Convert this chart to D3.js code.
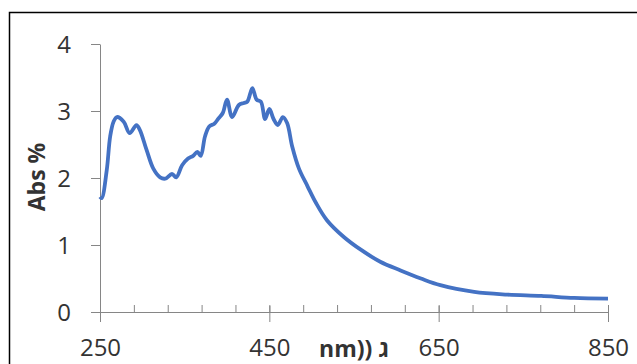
<!DOCTYPE html>
<html lang="en">
<head>
  <meta charset="UTF-8">
  <title>Abs spectrum</title>
  <script src="https://d3js.org/d3.v7.min.js"></script>
  <style>
    body { margin: 0; background: #fff; }
    text { font-family: "Open Sans", "Liberation Sans", sans-serif; fill: #333; }
  </style>
</head>
<body>
<script type="text/javascript">
    // wavelength (nm) and absorbance
    var wavelength = [250, 252, 258, 262, 266, 270, 278, 285, 293, 297, 305, 313, 321, 327, 335, 340,
                      347, 354, 360, 365, 369, 374, 379, 385, 390, 395, 400, 406, 414, 420, 424, 430,
                      435, 440, 445, 450, 455, 460, 466, 471, 477, 485, 495, 505, 518, 538, 558,
                      581, 605, 629, 652, 692, 731, 771, 810, 850];
    var absorb = [1.72, 1.70, 2.12, 2.62, 2.84, 2.91, 2.84, 2.67, 2.79, 2.72, 2.42, 2.14, 2.01, 1.99, 2.06, 2.01,
                  2.19, 2.29, 2.33, 2.39, 2.33, 2.62, 2.77, 2.81, 2.89, 2.97, 3.17, 2.91, 3.09, 3.12, 3.14, 3.34,
                  3.17, 3.14, 2.88, 3.03, 2.88, 2.79, 2.91, 2.82, 2.47, 2.14, 1.88, 1.63, 1.37, 1.12, 0.93,
                  0.75, 0.62, 0.50, 0.40, 0.30, 0.26, 0.24, 0.21, 0.20];
    var yTicks = [0, 1, 2, 3, 4];
    var xLabels = [250, 450, 650, 850];
    var xMinor = d3.range(250, 851, 40);

    var W = 637, H = 364;
    var svg = d3.select("body").append("svg")
                .attr("width", W)
                .attr("height", H);

    // outer frame
    svg.append("rect")
       .attr("x", 9.5).attr("y", 12.5)
       .attr("width", 700).attr("height", 400)
       .attr("fill", "#fff")
       .attr("stroke", "#000")
       .attr("stroke-width", 1.5);

    var x = d3.scaleLinear().domain([250, 850]).range([100, 608]);
    var y = d3.scaleLinear().domain([0, 4]).range([312, 44]);

    // y axis
    var yAxis = svg.append("g")
       .attr("transform", "translate(100,0)")
       .call(d3.axisLeft(y).tickValues(yTicks).tickSize(9).tickSizeOuter(0)
                .tickPadding(20).tickFormat(d3.format("d")));
    yAxis.selectAll("text").style("font-size", "24px").attr("dy", "0.36em");

    // x axis minor ticks (inside)
    svg.append("g")
       .attr("transform", "translate(0,312)")
       .call(d3.axisTop(x).tickValues(xMinor).tickSize(7).tickSizeOuter(0).tickFormat(""));

    // x axis major ticks (crossing) with labels
    var xAxis = svg.append("g")
       .attr("transform", "translate(0,312)")
       .call(d3.axisBottom(x).tickValues(xLabels).tickSize(10).tickSizeOuter(0).tickPadding(17));
    xAxis.selectAll(".tick line").attr("y1", -6);
    xAxis.selectAll("text").style("font-size", "24px").attr("dy", "0.71em");

    svg.selectAll(".domain, .tick line").attr("stroke", "#868686");

    // axis titles
    svg.append("text")
       .attr("transform", "translate(45,177) rotate(-90)")
       .attr("text-anchor", "middle")
       .style("font-size", "23px")
       .style("font-weight", "bold")
       .text("Abs %");

    svg.append("text")
       .attr("x", 354).attr("y", 357)
       .attr("text-anchor", "middle")
       .style("font-size", "23px")
       .style("font-weight", "bold")
       .text("nm)) ג");

    // spectrum
    var line = d3.line()
       .x(function(d, i){ return x(wavelength[i]); })
       .y(function(d){ return y(d); })
       .curve(d3.curveCatmullRom.alpha(0.5));

    svg.append("path")
       .datum(absorb)
       .attr("d", line)
       .attr("fill", "none")
       .attr("stroke", "#4472C4")
       .attr("stroke-width", 3.8)
       .attr("stroke-linejoin", "round");
</script>
</body>
</html>
